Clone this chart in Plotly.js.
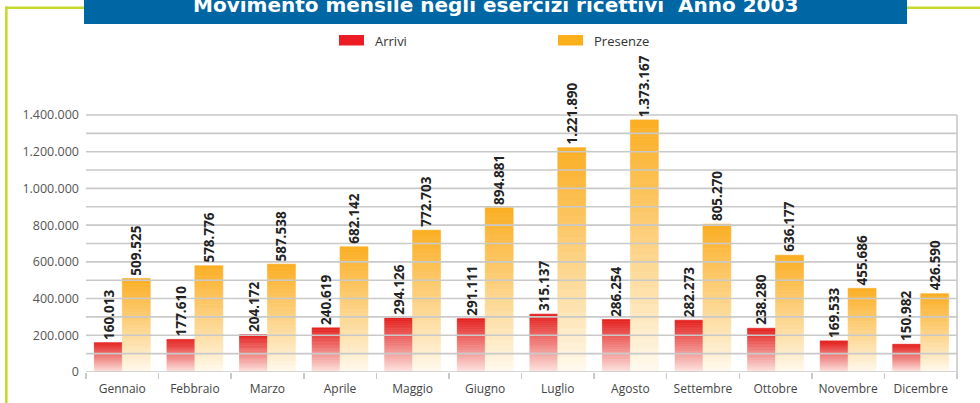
<!DOCTYPE html>
<html>
<head>
<meta charset="utf-8">
<script src="https://cdn.plot.ly/plotly-3.0.1.min.js"></script>
<style>
html,body{margin:0;padding:0;background:#fff;}
#chart{width:980px;height:403px;}
</style>
</head>
<body>
<div id="chart"></div>
<script>
// ---- data ----
const months = ['Gennaio','Febbraio','Marzo','Aprile','Maggio','Giugno','Luglio','Agosto','Settembre','Ottobre','Novembre','Dicembre'];
const arrivi = [160013,177610,204172,240619,294126,291111,315137,286254,282273,238280,169533,150982];
const presenze = [509525,578776,587538,682142,772703,894881,1221890,1373167,805270,636177,455686,426590];
const seriesNames = ['Arrivi','Presenze'];
const yTickVals = [0,200000,400000,600000,800000,1000000,1200000,1400000];
const gridVals = [0,100000,200000,300000,400000,500000,600000,700000,800000,900000,1000000,1100000,1200000,1300000,1400000];
const chartTitle = 'Movimento mensile negli esercizi ricettivi\u00a0 Anno 2003';

// ---- styling ----
const W = 980, H = 403;
const M = {l:86, r:23, t:52, b:31};
const PW = W - M.l - M.r, PH = H - M.t - M.b;
const BARGAP = 0.23;
const px2x = p => (p - M.l) / PW;
const px2y = p => (H - M.b - p) / PH;
const fmt = n => String(n).replace(/\B(?=(\d{3})+(?!\d))/g, '.');

const topCols = [[228,32,30],[251,174,34]];
const botCols = [[253,232,228],[255,250,240]];
const legendCols = ['#ED1C24','#FBAF1A'];
const N = 30;
const mix = (a,b,t) => 'rgb(' + a.map((v,i)=>Math.round(v+(b[i]-v)*t)).join(',') + ')';

const seriesVals = [arrivi, presenze];
const traces = [];
seriesVals.forEach((vals, s) => {
  for (let k = 0; k < N; k++) {
    const t = Math.pow((k + 0.5) / N, 0.95);
    const c = mix(botCols[s], topCols[s], t);
    traces.push({
      type: 'bar',
      name: seriesNames[s],
      x: months,
      y: vals.map(v => v / N),
      base: vals.map(v => v * k / N),
      offsetgroup: seriesNames[s],
      marker: {color: c, line: {color: c, width: 0.6}},
      showlegend: false,
      hoverinfo: 'skip'
    });
  }
});

const shapes = [];
// gridlines above bars
gridVals.forEach(v => shapes.push({type:'line', xref:'paper', yref:'y', x0:0, x1:1, y0:v, y1:v,
  line:{color:'#c9c9c9', width:1.6}, layer:'above'}));
// right border of plot
shapes.push({type:'line', xref:'paper', yref:'y', x0:1, x1:1, y0:0, y1:gridVals[gridVals.length-1],
  line:{color:'#c9c9c9', width:1.6}, layer:'above'});
shapes.push({type:'line', xref:'paper', yref:'paper', x0:1, x1:1, y0:0, y1:px2y(378),
  line:{color:'#c9c9c9', width:1.6}, layer:'above'});
// green frame
const green = '#C6D92E';
shapes.push({type:'line', xref:'paper', yref:'paper', x0:px2x(5), x1:px2x(86), y0:px2y(7.7), y1:px2y(7.7), line:{color:green, width:2.6}});
shapes.push({type:'line', xref:'paper', yref:'paper', x0:px2x(905), x1:px2x(981), y0:px2y(7.7), y1:px2y(7.7), line:{color:green, width:2.6}});
shapes.push({type:'line', xref:'paper', yref:'paper', x0:px2x(6.3), x1:px2x(6.3), y0:px2y(6.5), y1:px2y(404), line:{color:green, width:2.6}});
// title banner
shapes.push({type:'rect', xref:'paper', yref:'paper', x0:px2x(84), x1:px2x(907), y0:px2y(24), y1:px2y(-2),
  fillcolor:'#0066A4', line:{width:0}});
// legend swatches
const legX = [339, 558];
legX.forEach((x, i) => shapes.push({type:'rect', xref:'paper', yref:'paper', x0:px2x(x), x1:px2x(x+25), y0:px2y(45.5), y1:px2y(35),
  fillcolor:legendCols[i], line:{width:0}}));

const annotations = [
  {xref:'paper', yref:'paper', x:px2x(495), y:px2y(5), xanchor:'center', yanchor:'middle', showarrow:false,
   text:'<b>' + chartTitle + '</b>', font:{family:'DejaVu Sans, sans-serif', size:20, color:'#ffffff'}}
];
seriesNames.forEach((n, i) => annotations.push({xref:'paper', yref:'paper', x:px2x(legX[i]+34), y:px2y(40.5),
  xanchor:'left', yanchor:'middle', showarrow:false, text:n, font:{family:'Open Sans, sans-serif', size:13, color:'#333'}}));

// value labels (above the gridlines, like the reference)
const barW = PW / months.length * (1 - BARGAP) / seriesVals.length;
seriesVals.forEach((vals, s) => {
  vals.forEach((v, i) => annotations.push({
    xref:'x', yref:'y', x: months[i], y: v, xshift: (s - (seriesVals.length - 1) / 2) * barW, yshift: 1,
    xanchor:'center', yanchor:'bottom', textangle: -90, showarrow:false, text: '<b>' + fmt(v) + '</b>',
    font:{family:'Open Sans, sans-serif', size:13.5, color:'#222'}
  }));
});

const layout = {
  width: W, height: H,
  margin: M,
  paper_bgcolor: '#fff', plot_bgcolor: '#fff',
  barmode: 'group', bargap: BARGAP, bargroupgap: 0,
  separators: ',.',
  showlegend: false,
  font: {family: 'Open Sans, sans-serif', size: 12, color: '#444'},
  xaxis: {
    type: 'category', showgrid: false, zeroline: false, showline: false,
    ticks: 'outside', tickson: 'boundaries', ticklen: 6, tickwidth: 1.5, tickcolor: '#c9c9c9',
    ticklabelstandoff: 8,
    tickfont: {size: 12, color: '#444'}, fixedrange: true
  },
  yaxis: {
    range: [0, 1743000], showgrid: false, zeroline: false, showline: false,
    tickmode: 'array', tickvals: yTickVals, ticktext: yTickVals.map(fmt),
    ticks: '', ticklabelstandoff: 6, tickfont: {size: 12.5, color: '#555'}, fixedrange: true
  },
  shapes: shapes,
  annotations: annotations
};

Plotly.newPlot('chart', traces, layout, {staticPlot: true, displayModeBar: false});
</script>
</body>
</html>
